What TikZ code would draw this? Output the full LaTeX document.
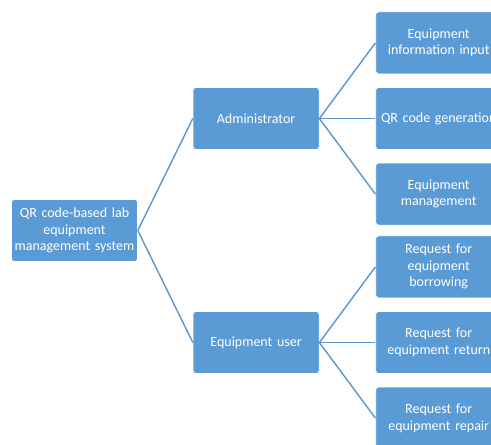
\documentclass[tikz,border=0pt]{standalone}
\usepackage{fontspec}
\setmainfont{Carlito}
\usepackage{tikz}
\usetikzlibrary{positioning}
\definecolor{boxblue}{RGB}{91,155,213}
\definecolor{lineblue}{RGB}{91,150,205}

\begin{document}
\begin{tikzpicture}[x=1pt, y=-1pt, node distance=13pt,
    box/.style={rectangle, rounded corners=3pt, fill=boxblue, draw=white, line width=0.6pt,
        minimum width=126pt, minimum height=62pt, text width=124pt, align=center,
        text=white, inner sep=1pt, font=\fontsize{14}{16.5}\selectfont},
    link/.style={draw=lineblue, line width=1.4pt}]
    \clip (0,0) rectangle (491,445);

    \node[box] (root) at (74.5,230.5) {QR code-based lab\\equipment\\management system};
    \node[box] (admin) [right=55pt of root, yshift=112pt] {Administrator};
    \node[box] (user) [right=55pt of root, yshift=-112pt] {Equipment user};

    \node[box] (qrgen) [right=56pt of admin] {QR code generation};
    \node[box] (input) [above=of qrgen] {Equipment\\information input};
    \node[box] (manage) [below=of qrgen] {Equipment\\management};

    \node[box] (ret) [right=56pt of user] {Request for\\equipment return};
    \node[box] (borrow) [above=of ret] {Request for\\equipment\\borrowing};
    \node[box] (repair) [below=of ret] {Request for\\equipment repair};

    \path[link] (root.east) edge (admin.west)
          (root.east) edge (user.west)
          (admin.east) edge (input.west)
          (admin.east) edge (qrgen.west)
          (admin.east) edge (manage.west)
          (user.east) edge (borrow.west)
          (user.east) edge (ret.west)
          (user.east) edge (repair.west);
\end{tikzpicture}
\end{document}
